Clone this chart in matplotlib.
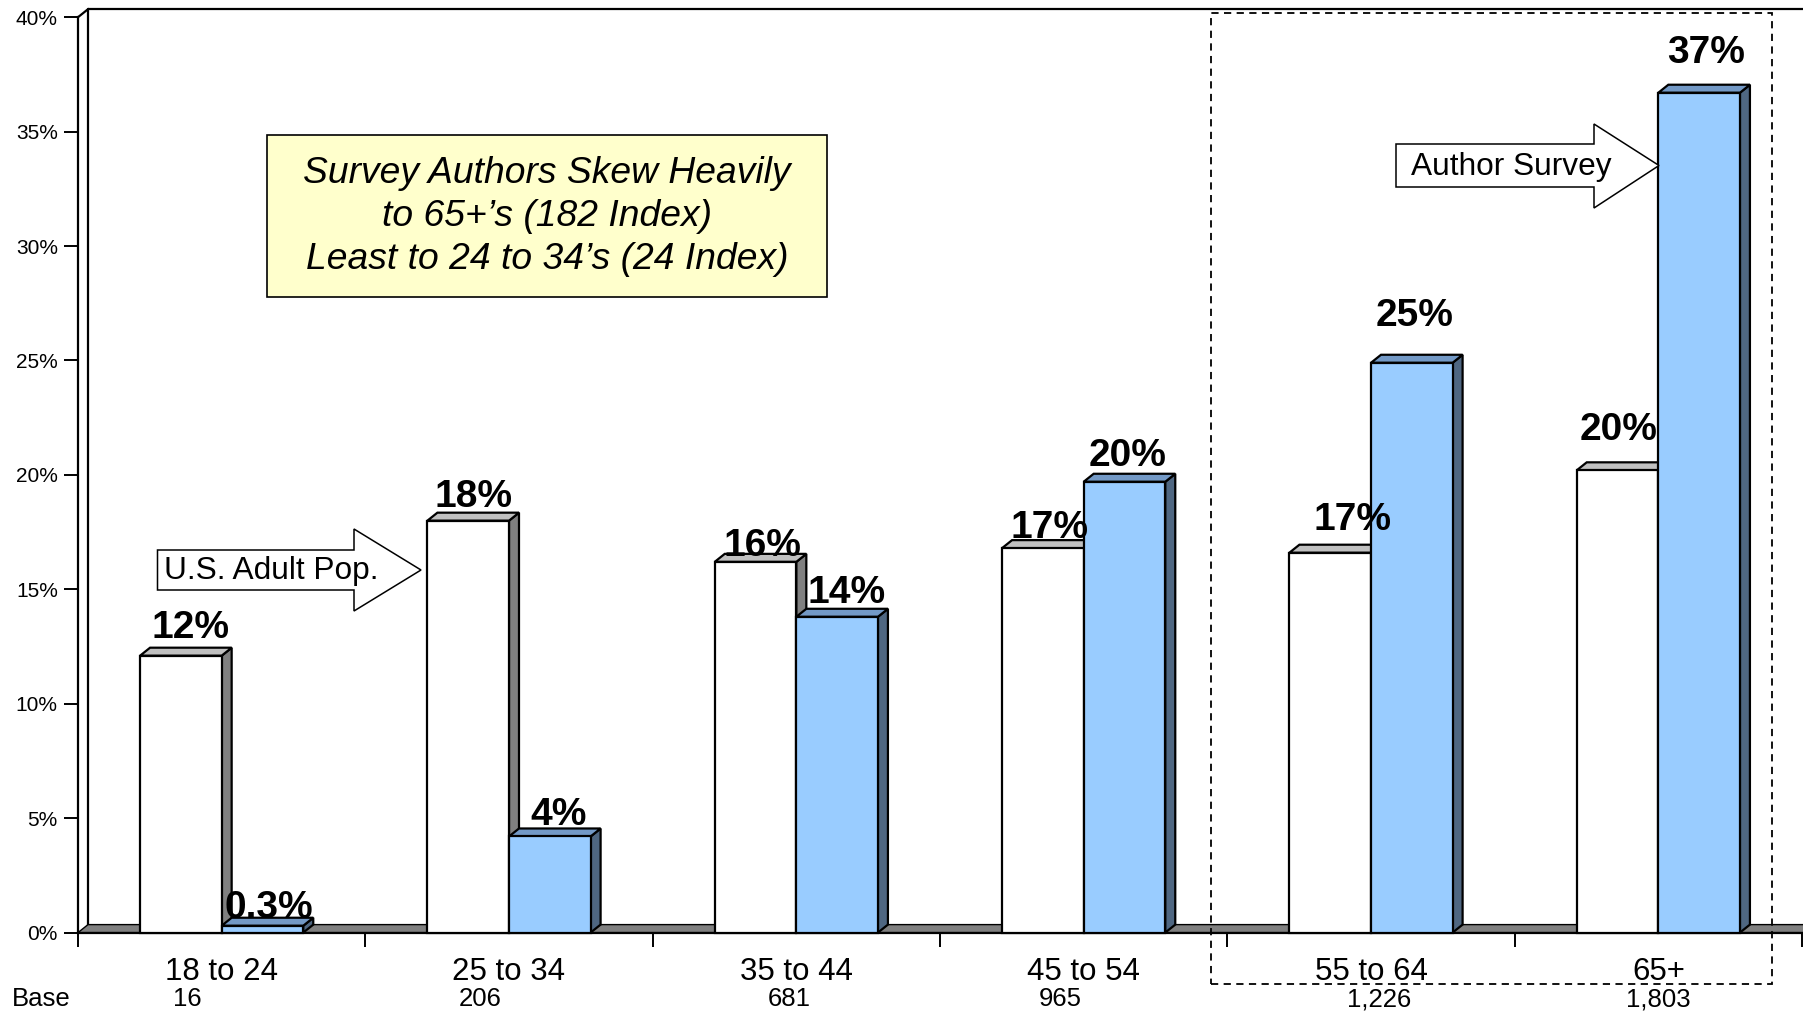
import matplotlib
matplotlib.use("Agg")
import matplotlib.pyplot as plt
from matplotlib.patches import Polygon, Rectangle

plt.rcParams['font.family'] = ['Liberation Sans', 'DejaVu Sans']

# ── Datos ─────────────────────────────────────────────
categories    = ["18 to 24", "25 to 34", "35 to 44", "45 to 54", "55 to 64", "65+"]
bases         = ["16", "206", "681", "965", "1,226", "1,803"]
us_pop        = [12.1, 18.0, 16.2, 16.8, 16.6, 20.2]
authors       = [0.3, 4.2, 13.8, 19.7, 24.9, 36.7]
us_labels     = ["12%", "18%", "16%", "17%", "17%", "20%"]
author_labels = ["0.3%", "4%", "14%", "20%", "25%", "37%"]
yticks        = [0, 5, 10, 15, 20, 25, 30, 35, 40]

# desplazamientos de etiquetas (px) respecto al borde superior de la barra
us_lab_dx  = [10, 5, 7, 7, 22, 1]
us_lab_dy  = [28, 24, 16, 20, 33, 40]
au_lab_dx  = [6, 9, 9, 3, 3, 7]
au_lab_dy  = [18, 21, 24, 26, 47, 40]
base_dx    = [-0.12, -0.10, -0.025, -0.08, 0.03, 0.0]

W, H = 1803, 1011
fig = plt.figure(figsize=(W / 100, H / 100), dpi=100)
fig.patch.set_facecolor("white")

AX_L, AX_R, AX_B, AX_T = 78, 1802, 932.6, 17.2
ax = fig.add_axes([AX_L / W, 1 - AX_B / H, (AX_R - AX_L) / W, (AX_B - AX_T) / H])
ax.set_xlim(0, 6)
ax.set_ylim(0, 40)
for s in ax.spines.values():
    s.set_visible(False)
ax.patch.set_alpha(0)

PXX = 6 / (AX_R - AX_L)
PXY = 40 / (AX_B - AX_T)
DX, DY = 10 * PXX, 8 * PXY
LW = 1.6

def fpx(x, y):
    return (x / W, 1 - y / H)

# ── Pared y suelo 3D ───────────────────────────────────
ax.plot([DX, DX, 6 + DX], [DY, 40 + DY, 40 + DY], color="black", lw=LW, clip_on=False, zorder=1)
ax.plot([0, DX], [40, 40 + DY], color="black", lw=LW, clip_on=False, zorder=1)
ax.add_patch(Polygon([(0, 0), (6 + DX, 0), (6 + 2 * DX, DY), (DX, DY)], closed=True,
                     facecolor="#808080", edgecolor="black", lw=1.0, clip_on=False, zorder=2))
ax.plot([0, 6 + DX], [0, 0], color="black", lw=LW, clip_on=False, zorder=3)
ax.plot([0, 0], [0, 40], color="black", lw=LW, clip_on=False, zorder=3)

# ── Barras 3D ─────────────────────────────────────────
BW = 0.284

def bar3d(x0, h, face, top, side, z):
    x1 = x0 + BW
    ax.add_patch(Polygon([(x1, 0), (x1 + DX, DY), (x1 + DX, h + DY), (x1, h)], closed=True,
                         facecolor=side, edgecolor="black", lw=LW, clip_on=False, zorder=z))
    ax.add_patch(Polygon([(x0, h), (x1, h), (x1 + DX, h + DY), (x0 + DX, h + DY)], closed=True,
                         facecolor=top, edgecolor="black", lw=LW, clip_on=False, zorder=z))
    ax.add_patch(Rectangle((x0, 0), BW, h, facecolor=face, edgecolor="black", lw=LW,
                           clip_on=False, zorder=z))

for i in range(len(categories)):
    c = i + 0.5
    bar3d(c - BW, us_pop[i], "white", "#C0C0C0", "#808080", 4 + 2 * i)
    bar3d(c, authors[i], "#99CCFF", "#7399C6", "#4F6782", 5 + 2 * i)

for i in range(len(categories)):
    c = i + 0.5
    ax.annotate(us_labels[i], (c - BW / 2, us_pop[i]),
                xytext=(us_lab_dx[i] * 0.72, us_lab_dy[i] * 0.72), textcoords="offset points",
                ha="center", va="center", fontsize=28, fontweight="bold", zorder=30)
    ax.annotate(author_labels[i], (c + BW / 2, authors[i]),
                xytext=(au_lab_dx[i] * 0.72, au_lab_dy[i] * 0.72), textcoords="offset points",
                ha="center", va="center", fontsize=28, fontweight="bold", zorder=30)

# ── Ejes ──────────────────────────────────────────────
ax.set_yticks(yticks)
ax.set_yticklabels([f"{v}%" for v in yticks])
ax.set_xticks(range(7))
ax.set_xticklabels([])
ax.tick_params(axis="y", length=10, width=1.4, pad=4.5, labelsize=15, direction="out")
ax.tick_params(axis="x", length=10, width=1.4, direction="out")

y_cat = (AX_B - 971.5) * PXY
y_base = (AX_B - 999.5) * PXY
for i, cat in enumerate(categories):
    ax.text(i + 0.5, y_cat, cat, ha="center", va="center", fontsize=22.5, clip_on=False)
    ax.text(i + 0.5 + base_dx[i], y_base, bases[i], ha="center", va="center", fontsize=18.5,
            clip_on=False)
ax.text((11.5 - AX_L) * PXX, y_base, "Base", ha="left", va="center", fontsize=18.5, clip_on=False)

# ── Caja punteada ─────────────────────────────────────
bx0, by0, bx1, by1 = 1211, 12.8, 1772, 984
fig.patches.append(Rectangle(fpx(bx0, by1), (bx1 - bx0) / W, (by1 - by0) / H,
                             transform=fig.transFigure, fill=False, edgecolor="black",
                             lw=1.3, linestyle=(0, (4, 3)), zorder=40))

# ── Flechas ───────────────────────────────────────────
def arrow(x0, xb, xt, yb0, yb1, yh0, yh1):
    ym = (yb0 + yb1) / 2
    pts = [(x0, yb0), (xb, yb0), (xb, yh0), (xt, ym), (xb, yh1), (xb, yb1), (x0, yb1)]
    fig.patches.append(Polygon([fpx(*p) for p in pts], closed=True, transform=fig.transFigure,
                               facecolor="white", edgecolor="black", lw=1.1, zorder=41))
    return ym

ym = arrow(157.5, 354, 421, 550, 590, 529, 611)
fig.text(*fpx(164, ym + 1), "U.S. Adult Pop.", ha="left", va="center", fontsize=22.8, zorder=42)
ym = arrow(1396, 1594, 1659, 144, 187, 124, 208)
fig.text(*fpx(1411, ym + 2), "Author Survey", ha="left", va="center", fontsize=22.8, zorder=42)

# ── Cuadro de texto ───────────────────────────────────
tx0, ty0, tx1, ty1 = 267, 134.5, 827, 297
fig.patches.append(Rectangle(fpx(tx0, ty1), (tx1 - tx0) / W, (ty1 - ty0) / H,
                             transform=fig.transFigure, facecolor="#FFFFCC", edgecolor="black",
                             lw=1.2, zorder=41))
fig.text(*fpx((tx0 + tx1) / 2, (ty0 + ty1) / 2 + 1),
         "Survey Authors Skew Heavily\nto 65+\u2019s (182 Index)\nLeast to 24 to 34\u2019s (24 Index)",
         ha="center", va="center", fontsize=26.8, style="italic", linespacing=1.3, zorder=42)

fig.savefig("out.png", dpi=100)
